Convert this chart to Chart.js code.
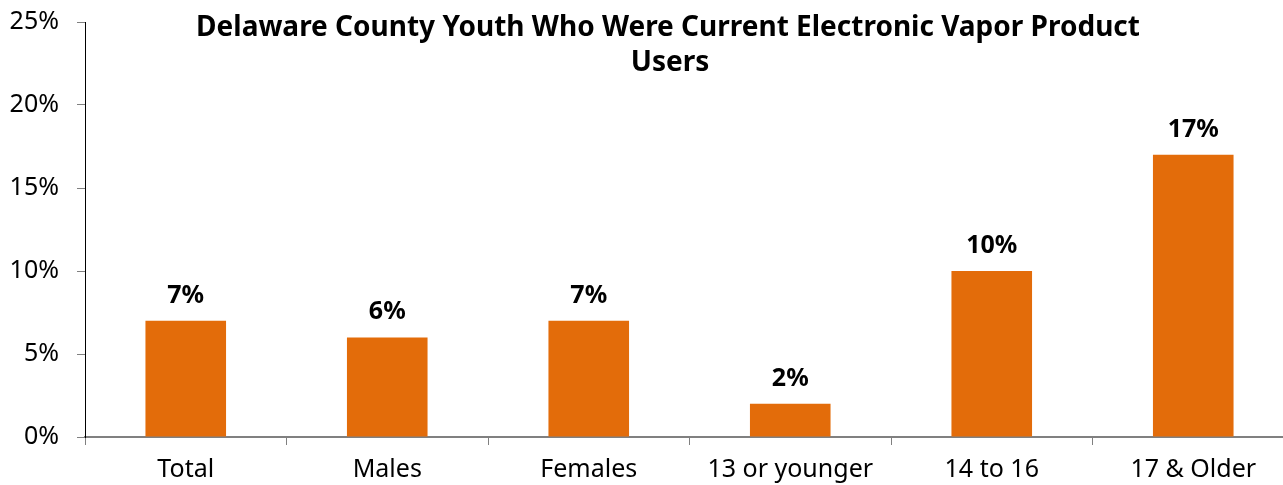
<!DOCTYPE html>
<html>
<head>
<meta charset="utf-8">
<script src="https://cdn.jsdelivr.net/npm/chart.js@4"></script>
<style>
  html, body { margin: 0; padding: 0; overflow: hidden; background: #fff; }
  #wrap { width: 1295px; height: 485px; }
</style>
</head>
<body>
<div id="wrap"><canvas id="vapeChart" width="1295" height="485"></canvas></div>
<script>
const categories = ["Total", "Males", "Females", "13 or younger", "14 to 16", "17 & Older"];
const vaporUsers = [7, 6, 7, 2, 10, 17];
const yTicks = [0, 5, 10, 15, 20, 25];
const titleLines = ["Delaware County Youth Who Were Current Electronic Vapor Product", "Users"];

const FONT = "'Noto Sans', 'Open Sans', sans-serif";

// title sits inside the plot area, like the original
const titlePlugin = {
  id: 'insideTitle',
  afterDraw(chart) {
    const ctx = chart.ctx;
    ctx.save();
    ctx.font = "bold 28px " + FONT;
    ctx.fillStyle = "#000";
    ctx.textAlign = "center";
    ctx.textBaseline = "alphabetic";
    ctx.fillText(titleLines[0], 668, 36);
    ctx.fillText(titleLines[1], 670, 71);
    ctx.restore();
  }
};

// value labels over the bars
const barLabels = {
  id: 'barLabels',
  afterDatasetsDraw(chart) {
    const ctx = chart.ctx;
    const meta = chart.getDatasetMeta(0);
    ctx.save();
    ctx.font = "bold 25px " + FONT;
    ctx.fillStyle = "#000";
    ctx.textAlign = "center";
    ctx.textBaseline = "alphabetic";
    meta.data.forEach((bar, i) => {
      ctx.fillText(vaporUsers[i] + "%", bar.x, bar.y - 18);
    });
    ctx.restore();
  }
};

new Chart(document.getElementById("vapeChart"), {
  type: 'bar',
  data: {
    labels: categories,
    datasets: [{
      data: vaporUsers,
      backgroundColor: "#E36C0A",
      barPercentage: 0.4,
      categoryPercentage: 1.0
    }]
  },
  options: {
    responsive: false,
    animation: false,
    layout: { padding: { top: 22, right: 1, left: 0, bottom: 0 } },
    plugins: {
      legend: { display: false },
      title: { display: false },
      tooltip: { enabled: false }
    },
    scales: {
      x: {
        grid: { drawOnChartArea: false, drawTicks: true, tickLength: 8, tickColor: "#808080", offset: true },
        border: { color: "#808080", width: 2 },
        ticks: { color: "#000", font: { family: FONT, size: 25 }, padding: 10, maxRotation: 0 },
        afterFit(scale) {
          scale.height = 48;
          scale.paddingLeft = 0;
          scale.paddingRight = 0;
        }
      },
      y: {
        min: 0,
        max: 25,
        afterBuildTicks(scale) { scale.ticks = yTicks.map(v => ({ value: v })); },
        grid: { drawOnChartArea: false, drawTicks: true, tickLength: 8, tickColor: "#808080" },
        border: { color: "#000", width: 1 },
        ticks: {
          color: "#000",
          font: { family: FONT, size: 25 },
          padding: 18,
          callback: v => v + "%"
        },
        afterFit(scale) {
          scale.width = 85;
          scale.paddingTop = 0;
          scale.paddingBottom = 0;
        }
      }
    }
  },
  plugins: [titlePlugin, barLabels]
});
</script>
</body>
</html>
